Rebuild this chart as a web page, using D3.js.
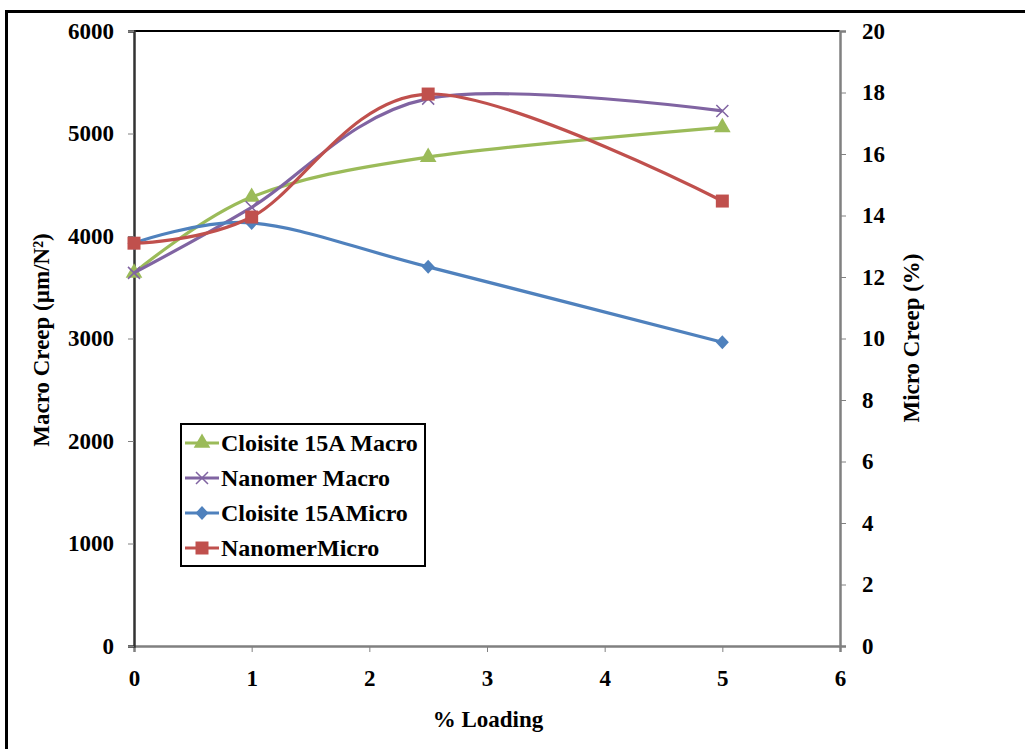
<!DOCTYPE html>
<html>
<head>
<meta charset="utf-8">
<script src="https://cdn.jsdelivr.net/npm/d3@7"></script>
<style>
  body { margin: 0; background: #fff; }
  text { font-family: "Liberation Serif", "Times New Roman", serif; font-weight: bold; fill: #000; }
</style>
</head>
<body>
<div id="chart"></div>
<script>
(function() {

  var loading = [0, 1, 2.5, 5];

  var cloisiteMacro = [3640, 4380, 4770, 5060],
      nanomerMacro  = [3640, 4280, 5340, 5220],
      cloisiteMicro = [13.1, 13.76, 12.33, 9.88],
      nanomerMicro  = [13.1, 13.95, 17.95, 14.47];

  var xTicks = [0, 1, 2, 3, 4, 5, 6],
      leftTicks = [0, 1000, 2000, 3000, 4000, 5000, 6000],
      rightTicks = [0, 2, 4, 6, 8, 10, 12, 14, 16, 18, 20];

  var series = [
    { name: 'Cloisite 15A Macro', values: cloisiteMacro, axis: 'left',  color: '#9bbb59', marker: 'triangle' },
    { name: 'Nanomer Macro',      values: nanomerMacro,  axis: 'left',  color: '#8064a2', marker: 'cross' },
    { name: 'Cloisite 15AMicro',  values: cloisiteMicro, axis: 'right', color: '#4f81bd', marker: 'diamond' },
    { name: 'NanomerMicro',       values: nanomerMicro,  axis: 'right', color: '#c0504d', marker: 'square' }
  ];

  var W = 1025, H = 749,
      left = 134, right = 840, top = 31, bottom = 646;

  var svg = d3.select('#chart').append('svg')
    .attr('width', W)
    .attr('height', H);

  // outer frame
  svg.append('rect')
    .attr('x', 6.5).attr('y', 11.5)
    .attr('width', 1040).attr('height', 760)
    .attr('fill', 'none')
    .attr('stroke', '#000')
    .attr('stroke-width', 3);

  var x = d3.scaleLinear().domain([0, 6]).range([left, right]),
      yL = d3.scaleLinear().domain([0, 6000]).range([bottom, top]),
      yR = d3.scaleLinear().domain([0, 20]).range([bottom, top]);

  // plot frame
  svg.append('line')
    .attr('x1', left).attr('x2', right)
    .attr('y1', top).attr('y2', top)
    .attr('stroke', '#000').attr('stroke-width', 2);

  var axisColor = '#808080';

  var gx = svg.append('g')
    .attr('transform', 'translate(0,' + bottom + ')')
    .call(d3.axisBottom(x).tickValues(xTicks).tickSize(6).tickPadding(18).tickFormat(d3.format('d')));

  var gl = svg.append('g')
    .attr('transform', 'translate(' + left + ',0)')
    .call(d3.axisLeft(yL).tickValues(leftTicks).tickSize(6).tickPadding(14).tickFormat(d3.format('d')));

  var gr = svg.append('g')
    .attr('transform', 'translate(' + right + ',0)')
    .call(d3.axisRight(yR).tickValues(rightTicks).tickSize(6).tickPadding(16).tickFormat(d3.format('d')));

  [gx, gl, gr].forEach(function(g) {
    g.select('.domain').attr('stroke', axisColor).attr('stroke-width', 2.5);
    g.selectAll('.tick line').attr('stroke', axisColor).attr('stroke-width', 1);
    g.selectAll('.tick text')
      .style('font-family', '"Liberation Serif", serif')
      .style('font-weight', 'bold')
      .style('font-size', '23px')
      .attr('fill', '#000');
  });
  gl.select('.domain').attr('stroke', '#333');

  // axis titles
  svg.append('text')
    .attr('x', 488).attr('y', 727)
    .attr('text-anchor', 'middle')
    .style('font-size', '23px')
    .text('% Loading');

  svg.append('text')
    .attr('transform', 'translate(49,340) rotate(-90)')
    .attr('text-anchor', 'middle')
    .style('font-size', '23px')
    .text('Macro Creep (µm/N²)');

  svg.append('text')
    .attr('transform', 'translate(919,338) rotate(-90)')
    .attr('text-anchor', 'middle')
    .style('font-size', '23px')
    .text('Micro Creep (%)');

  function markerPath(type) {
    if (type === 'triangle') return d3.symbol().type(d3.symbolTriangle).size(120)();
    if (type === 'diamond') return 'M0,-7L6.5,0L0,7L-6.5,0Z';
    if (type === 'square') return 'M-6.5,-6.5H6.5V6.5H-6.5Z';
    return 'M-6,-6L6,6M6,-6L-6,6';
  }

  function drawMarker(g, s, px, py) {
    var m = g.append('path')
      .attr('d', markerPath(s.marker))
      .attr('transform', 'translate(' + px + ',' + py + ')');
    if (s.marker === 'cross') {
      m.attr('fill', 'none').attr('stroke', s.color).attr('stroke-width', 1.5);
    } else {
      m.attr('fill', s.color);
    }
  }

  var plot = svg.append('g');

  series.forEach(function(s) {
    var yS = s.axis === 'left' ? yL : yR;
    var pts = loading.map(function(l, i) { return [x(l), yS(s.values[i])]; });
    var line = d3.line().curve(d3.curveCardinal.tension(0));

    plot.append('path')
      .attr('d', line(pts))
      .attr('fill', 'none')
      .attr('stroke', s.color)
      .attr('stroke-width', 3.2);

    pts.forEach(function(p) { drawMarker(plot, s, p[0], p[1]); });
  });

  // legend
  var lg = svg.append('g').attr('transform', 'translate(181,424)');
  lg.append('rect')
    .attr('x', 0).attr('y', 0)
    .attr('width', 244).attr('height', 142)
    .attr('fill', '#fff')
    .attr('stroke', '#000')
    .attr('stroke-width', 2);

  series.forEach(function(s, i) {
    var cy = 19 + i * 35;
    var row = lg.append('g');
    row.append('line')
      .attr('x1', 4).attr('x2', 38)
      .attr('y1', cy).attr('y2', cy)
      .attr('stroke', s.color)
      .attr('stroke-width', 3.2);
    drawMarker(row, s, 21, cy);
    row.append('text')
      .attr('x', 40).attr('y', cy + 8)
      .style('font-size', '24px')
      .text(s.name);
  });

})();
</script>
</body>
</html>
